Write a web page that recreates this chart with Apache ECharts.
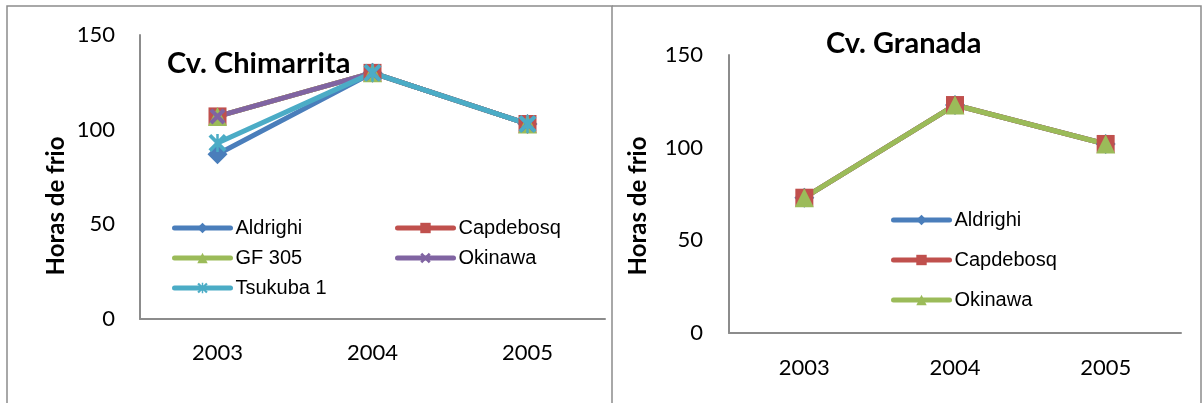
<!DOCTYPE html>
<html>
<head>
<meta charset="utf-8">
<script src="https://cdn.jsdelivr.net/npm/echarts@6/dist/echarts.min.js"></script>
<style>
  html, body { margin: 0; padding: 0; background: #ffffff; }
  #chart { width: 1202px; height: 403px; }
</style>
</head>
<body>
<div id="chart"></div>
<script>
// Categories (years) shared by both panels
const years = ['2003', '2004', '2005'];

// Cv. Chimarrita – chilling hours per location
const chimAldrighi = [87, 130, 103];
const chimCapdebosq = [107, 130, 103];
const chimGF305 = [107, 130, 103];
const chimOkinawa = [107, 130, 103];
const chimTsukuba = [93, 130, 103];

// Cv. Granada – chilling hours per location
const granAldrighi = [73, 123, 102];
const granCapdebosq = [73, 123, 102];
const granOkinawa = [73, 123, 102];

// Value axis range
const yMin = 0;
const yMax = 150;
const yStep = 50;

const FONT_NUM = 'Lato';
const FONT_LEG = 'Liberation Sans';
const AXIS_GREY = '#8c8c8c';

// Marker shapes
const SYM_X = 'path://M0,1.8 L1.8,0 L10,8.2 L8.2,10 Z M8.2,0 L10,1.8 L1.8,10 L0,8.2 Z';
const SYM_STAR = 'path://M0,1.5 L1.5,0 L10,8.5 L8.5,10 Z M8.5,0 L10,1.5 L1.5,10 L0,8.5 Z M4.3,0 L5.7,0 L5.7,10 L4.3,10 Z';

const styles = {
  Aldrighi:  { color: '#4A7EBB', symbol: 'diamond', size: 20 },
  Capdebosq: { color: '#C0504D', symbol: 'rect', size: 18 },
  'GF 305':  { color: '#9BBB59', symbol: 'triangle', size: 19 },
  Okinawa:   { color: '#8064A2', symbol: SYM_X, size: 16 },
  'Tsukuba 1': { color: '#4BACC6', symbol: SYM_STAR, size: 18 }
};
const granSuffix = ' \u00b7G';
const granStyles = {
  Aldrighi:  styles.Aldrighi,
  Capdebosq: styles.Capdebosq,
  Okinawa:   { color: '#9BBB59', symbol: 'triangle', size: 19 }
};

function lineSeries(name, data, st, idx) {
  return {
    type: 'line',
    name: name,
    data: data,
    xAxisIndex: idx,
    yAxisIndex: idx,
    symbol: st.symbol,
    symbolSize: st.size,
    color: st.color,
    itemStyle: { color: st.color },
    lineStyle: { color: st.color, width: 5, cap: 'round', join: 'round' },
    animation: false
  };
}

const series = [
  lineSeries('Aldrighi', chimAldrighi, styles.Aldrighi, 0),
  lineSeries('Capdebosq', chimCapdebosq, styles.Capdebosq, 0),
  lineSeries('GF 305', chimGF305, styles['GF 305'], 0),
  lineSeries('Okinawa', chimOkinawa, styles.Okinawa, 0),
  lineSeries('Tsukuba 1', chimTsukuba, styles['Tsukuba 1'], 0),
  lineSeries('Aldrighi' + granSuffix, granAldrighi, granStyles.Aldrighi, 1),
  lineSeries('Capdebosq' + granSuffix, granCapdebosq, granStyles.Capdebosq, 1),
  lineSeries('Okinawa' + granSuffix, granOkinawa, granStyles.Okinawa, 1)
];

function catAxis(gridIndex, margin) {
  return {
    type: 'category', gridIndex: gridIndex, data: years,
    boundaryGap: true,
    axisLine: { show: true, lineStyle: { color: AXIS_GREY, width: 2 } },
    axisTick: { show: false },
    axisLabel: { color: '#000', fontFamily: FONT_NUM, fontSize: 22, margin: margin },
    splitLine: { show: false }
  };
}
function valAxis(gridIndex, margin) {
  return {
    type: 'value', gridIndex: gridIndex, min: yMin, max: yMax, interval: yStep,
    axisLine: { show: true, lineStyle: { color: AXIS_GREY, width: 2 } },
    axisTick: { show: false },
    axisLabel: { color: '#000', fontFamily: FONT_NUM, fontSize: 22, margin: margin },
    splitLine: { show: false }
  };
}

const legendText = { color: '#000', fontFamily: FONT_LEG, fontSize: 20, lineHeight: 20 };
function legendBlock(names, left, top, gap) {
  return {
    data: names, left: left, top: top, orient: 'vertical', padding: 0,
    itemWidth: 56, itemHeight: 13, itemGap: gap,
    textStyle: legendText,
    lineStyle: { width: 5, cap: 'round' },
    formatter: n => n.replace(granSuffix, ''),
    selectedMode: false
  };
}

const borderStyle = { stroke: AXIS_GREY, lineWidth: 1.5, fill: null };

const option = {
  backgroundColor: '#ffffff',
  animation: false,
  grid: [
    { left: 140, top: 35, width: 465, height: 284 },
    { left: 729, top: 55, width: 452, height: 278 }
  ],
  xAxis: [catAxis(0, 23), catAxis(1, 24)],
  yAxis: [valAxis(0, 25), valAxis(1, 26)],
  legend: [
    legendBlock(['Aldrighi', 'GF 305', 'Tsukuba 1'], 172, 218, 10),
    legendBlock(['Capdebosq', 'Okinawa'], 395, 218, 10),
    legendBlock(['Aldrighi' + granSuffix, 'Capdebosq' + granSuffix, 'Okinawa' + granSuffix], 891, 210, 20)
  ],
  series: series,
  graphic: [
    // panel frames
    { type: 'polyline', silent: true, shape: { points: [[7, 410], [7, 6], [612, 6], [612, 410]] }, style: borderStyle },
    { type: 'polyline', silent: true, shape: { points: [[612, 6], [1201, 6], [1201, 410]] }, style: borderStyle },
    // panel titles
    { type: 'text', left: 167, top: 49, style: { text: 'Cv. Chimarrita', fill: '#000', font: 'bold 29px Lato' } },
    { type: 'text', left: 826, top: 29, style: { text: 'Cv. Granada', fill: '#000', font: 'bold 29px Lato' } },
    // value axis names
    { type: 'text', x: 56, y: 206, rotation: Math.PI / 2,
      style: { text: 'Horas de frio', fill: '#000', font: 'bold 24px Lato', align: 'center', verticalAlign: 'middle' } },
    { type: 'text', x: 638, y: 206, rotation: Math.PI / 2,
      style: { text: 'Horas de frio', fill: '#000', font: 'bold 24px Lato', align: 'center', verticalAlign: 'middle' } }
  ]
};

const chart = echarts.init(document.getElementById('chart'), null, { renderer: 'canvas' });
chart.setOption(option);
</script>
</body>
</html>
